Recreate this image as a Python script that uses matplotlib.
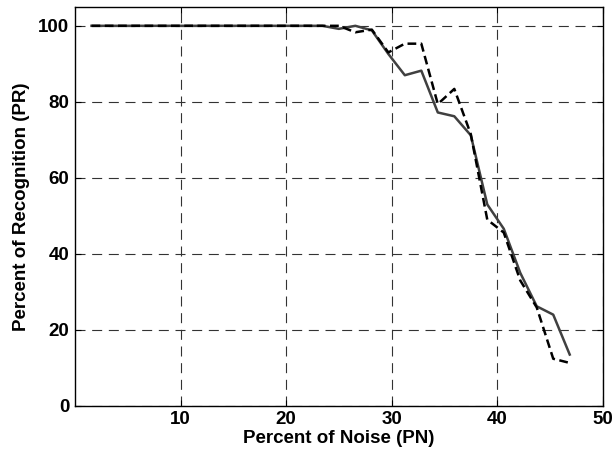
import matplotlib
matplotlib.use("Agg")
import matplotlib.pyplot as plt
import numpy as np

step = 1.5625
k = np.arange(1, 31)
noise = k * step

solid = [100, 100, 100, 100, 100, 100, 100, 100, 100, 100,
         100, 100, 100, 100, 100, 99.2, 100, 98.8, 92.6, 87,
         88.2, 77.2, 76.2, 71.2, 53, 46.6, 35, 26.2, 24, 13.5]
dashed = [100, 100, 100, 100, 100, 100, 100, 100, 100, 100,
          100, 100, 100, 100, 100, 100, 98.3, 99, 93, 95.3,
          95.3, 79.4, 83.4, 71.5, 49, 45.6, 33, 25.9, 12.4, 11.3]

xticks = [10, 20, 30, 40, 50]
yticks = [0, 20, 40, 60, 80, 100]

plt.rcParams['font.family'] = ['Liberation Sans', 'DejaVu Sans']
fig = plt.figure(figsize=(6.15, 4.54), dpi=100)
ax = fig.add_axes([0.122, 0.106, 0.858, 0.879])

ax.plot(noise, solid, color='#404040', lw=1.8, ls='-', zorder=3)
ax.plot(noise, dashed, color='black', lw=1.8, ls=(0, (3.5, 1.8)), zorder=4)

ax.set_xlim(0, 50)
ax.set_ylim(0, 105)
ax.set_xticks(xticks)
ax.set_yticks(yticks)
ax.tick_params(direction='in', length=4, width=0.8, labelsize=13.5,
               top=True, right=True, pad=4)
for lab in ax.get_xticklabels() + ax.get_yticklabels():
    lab.set_fontweight('bold')
ax.grid(True, color='#333333', ls=(0, (9, 6)), lw=0.8)
for s in ax.spines.values():
    s.set_linewidth(1.0)

ax.set_xlabel('Percent of Noise (PN)', fontsize=13.5, fontweight='bold', labelpad=1)
ax.set_ylabel('Percent of Recognition (PR)', fontsize=13.5, fontweight='bold', labelpad=6)

fig.savefig('out.png', dpi=100)
